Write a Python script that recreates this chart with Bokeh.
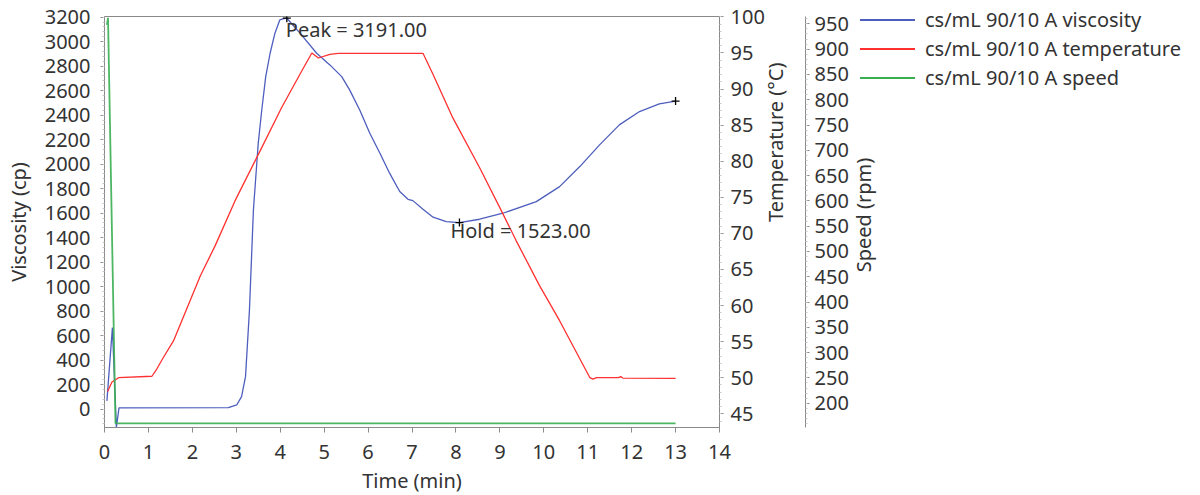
import math
from bokeh.plotting import figure
from bokeh.layouts import row
from bokeh.models import Range1d, LinearAxis, SingleIntervalTicker, Label, Div
from bokeh.embed import file_html
from bokeh.resources import INLINE

# ---------------- data ----------------
visc_time = [0.055, 0.18, 0.27, 0.33, 2.82, 3.01, 3.12, 3.21, 3.30, 3.39, 3.50, 3.58, 3.67,
             3.77, 3.88, 3.99, 4.08, 4.15, 4.45, 4.83, 5.13, 5.40, 5.58, 5.81, 6.04, 6.27,
             6.49, 6.72, 6.91, 7.02, 7.25, 7.48, 7.78, 8.08, 8.54, 9.07, 9.83, 10.36,
             10.82, 11.27, 11.72, 12.18, 12.63, 13.0]
visc = [67, 665, -150, 10, 12, 34, 102, 265, 810, 1626, 2171, 2442, 2714,
        2905, 3069, 3177, 3188, 3191, 3069, 2905, 2810, 2714, 2606, 2442, 2252, 2089,
        1926, 1776, 1713, 1702, 1632, 1567, 1531, 1523, 1550, 1599, 1694, 1816,
        1980, 2157, 2320, 2429, 2491, 2515]

temp_time = [0.07, 0.17, 0.32, 1.08, 1.19, 1.34, 1.57, 1.76, 1.95, 2.18, 2.52, 2.97, 3.54,
             4.03, 4.49, 4.72, 4.87, 5.13, 5.32, 7.25, 7.48, 7.93, 8.54, 9.07, 9.37, 9.9,
             10.36, 11.05, 11.12, 11.2, 11.7, 11.75, 11.8, 13.0]
temp = [48.1, 49.4, 50.0, 50.2, 51.2, 52.8, 55.1, 57.9, 60.7, 64.1, 68.3, 74.5, 81.4,
        87.4, 92.5, 95.0, 94.3, 94.8, 94.95, 94.95, 92.0, 86.0, 79.1, 72.7, 69.0, 62.8,
        57.9, 50.0, 49.8, 50.0, 50.0, 50.15, 49.95, 49.9]

speed_time = [0.055, 0.08, 0.25, 13.0]
speed = [948, 962, 160, 160]

marker_time = [4.15, 8.08, 13.0]
marker_visc = [3191, 1523, 2515]

series_names = ["cs/mL 90/10 A viscosity", "cs/mL 90/10 A temperature", "cs/mL 90/10 A speed"]
peak_text = "Peak = 3191.00"
hold_text = "Hold = 1523.00"
speed_title = "Speed (rpm)"

# ---------------- style ----------------
FONT = "Noto Sans"
FS = "20px"
TXT = "#333333"
AX = "#8a8a8a"
BLUE = "#4e5ebe"
RED = "#ff3030"
GREEN = "#3aae52"
series_colors = [BLUE, RED, GREEN]
H = 494
E = 853          # right edge of the main canvas (page px)

p = figure(frame_width=615, frame_height=411, x_range=Range1d(0, 14), y_range=Range1d(-150, 3205),
           output_backend="svg", toolbar_location=None,
           min_border_left=104, min_border_right=E - 104 - 615, min_border_top=16,
           min_border_bottom=H - 16 - 411)
p.outline_line_color = AX
p.xgrid.visible = False
p.ygrid.visible = False
p.background_fill_color = "white"
p.border_fill_color = "white"
p.extra_y_ranges = {"temp": Range1d(43.1, 100.05), "speed": Range1d(152, 964.5)}

has_orient = "axis_label_orientation" in LinearAxis.properties()


def style_axis(ax, standoff, title_standoff):
    ax.axis_line_color = AX
    ax.major_tick_line_color = AX
    ax.minor_tick_line_color = "#c8c8c8"
    ax.major_tick_out = 4
    ax.major_tick_in = 0
    ax.minor_tick_out = 2
    ax.minor_tick_in = 0
    ax.major_label_text_font = FONT
    ax.major_label_text_font_size = FS
    ax.major_label_text_color = TXT
    ax.major_label_standoff = standoff
    ax.axis_label_text_font = FONT
    ax.axis_label_text_font_size = FS
    ax.axis_label_text_font_style = "normal"
    ax.axis_label_text_color = TXT
    ax.axis_label_standoff = title_standoff


xa = p.xaxis[0]
xa.ticker = SingleIntervalTicker(interval=1, num_minor_ticks=0)
xa.axis_label = "Time (min)"
style_axis(xa, 12, 5)
xa.major_tick_out = 5

ya = p.yaxis[0]
ya.ticker = SingleIntervalTicker(interval=200, num_minor_ticks=5)
ya.axis_label = "Viscosity (cp)"
style_axis(ya, 10, 10)

temp_axis = LinearAxis(y_range_name="temp",
                       ticker=SingleIntervalTicker(interval=5, num_minor_ticks=5),
                       axis_label="Temperature (°C)")
style_axis(temp_axis, 7, 8)
if has_orient:
    temp_axis.axis_label_orientation = math.pi / 2
p.add_layout(temp_axis, "right")

speed_axis = LinearAxis(y_range_name="speed",
                        ticker=SingleIntervalTicker(interval=50, num_minor_ticks=5))
style_axis(speed_axis, 5, 0)
p.add_layout(speed_axis, "right")

# ---------------- series ----------------
r_v = p.line(visc_time, visc, color=BLUE, line_width=1.3)
r_t = p.line(temp_time, temp, color=RED, line_width=1.3, y_range_name="temp")
r_s = p.line(speed_time, speed, color=GREEN, line_width=1.8, line_alpha=0.9, y_range_name="speed")

p.scatter(marker_time, marker_visc, marker="cross", size=8, line_color="black", line_width=1.3)

p.add_layout(Label(x=marker_time[0], y=marker_visc[0], text=peak_text, x_offset=-1, y_offset=-11,
                   text_font=FONT, text_font_size=FS, text_color=TXT,
                   text_baseline="alphabetic", text_align="left"))
p.add_layout(Label(x=marker_time[1], y=marker_visc[1], text=hold_text, x_offset=-9, y_offset=-8,
                   text_font=FONT, text_font_size=FS, text_color=TXT,
                   text_baseline="alphabetic", text_align="left"))

# ---------------- side block: speed axis title + legend ----------------
W2 = 1195 - E
rows_html = "".join(
    f'<div style="display:flex;align-items:center;height:29px;">'
    f'<span style="display:inline-block;width:55px;height:0;border-top:2px solid {c};'
    f'margin-right:10px;"></span><span style="white-space:nowrap;">{name}</span></div>'
    for name, c in zip(series_names, series_colors))
side_html = (
    f'<div style="position:relative;width:{W2}px;height:{H}px;font-family:\'{FONT}\';'
    f'font-size:{FS};color:{TXT};line-height:1;">'
    f'<div style="position:absolute;left:7px;top:5px;">{rows_html}</div>'
    f'<div style="position:absolute;left:11px;top:215px;white-space:nowrap;'
    f'transform:translate(-50%,-50%) rotate(-90deg);">{speed_title}</div>'
    f'</div>')
side = Div(text=side_html, width=W2, height=H, margin=0)

open("out.html", "w").write(file_html(row(p, side), INLINE))
